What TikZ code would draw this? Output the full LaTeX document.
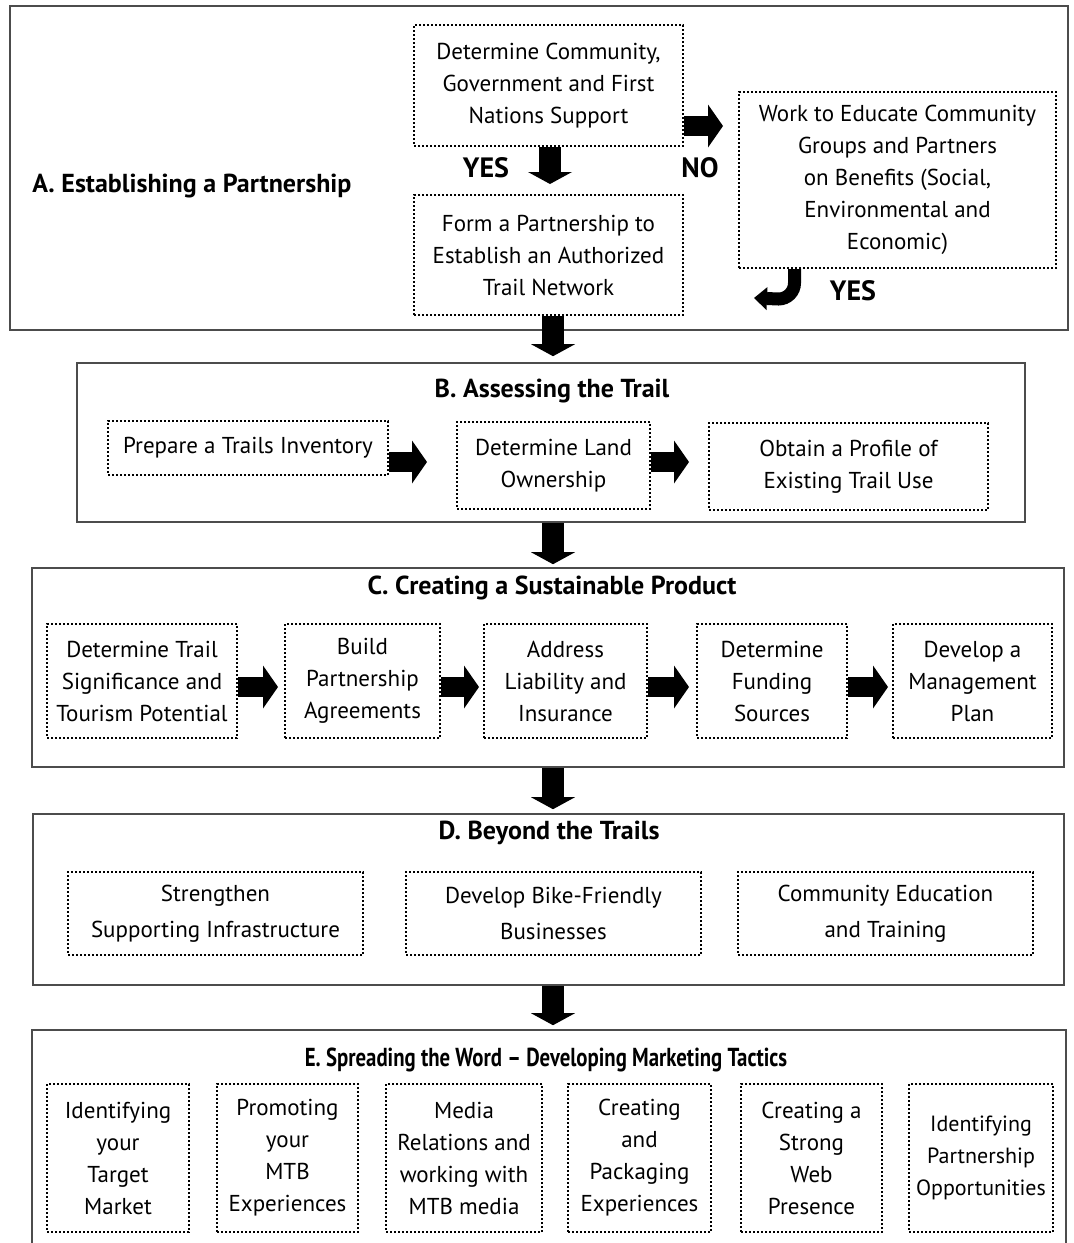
\documentclass[tikz,border=0pt]{standalone}
\usepackage{fontspec}
\setmainfont{PT Sans}
\usetikzlibrary{arrows.meta}
\begin{document}
\begin{tikzpicture}[x=0.5pt,y=-0.5pt,
  part/.style={draw=black!70,line width=0.8pt,inner sep=0pt},
  dotbox/.style={draw,densely dotted,line width=1pt,align=center,inner sep=0pt,font=\fontsize{11.5}{16}\selectfont},
  title/.style={inner sep=0pt,font=\bfseries\fontsize{13}{15}\selectfont},
  answer/.style={inner sep=0pt,font=\bfseries\fontsize{14}{16}\selectfont},
  fatdown/.style={line width=11pt,-{Triangle[length=6pt,width=22pt,line width=0pt]}},
  fat/.style={line width=10pt,-{Triangle[length=7.5pt,width=21.5pt,line width=0pt]}}]
\useasboundingbox (0,0) rectangle (1073,1243);
\clip (0,0) rectangle (1073,1243);
\node[part,minimum width=529pt,minimum height=162pt] (secA) at (539,168) {};
\node[part,minimum width=474pt,minimum height=79.5pt] (secB) at (551,442.5) {};
\node[part,minimum width=516pt,minimum height=99.5pt] (secC) at (548,667.5) {};
\node[part,minimum width=515.5pt,minimum height=85.5pt] (secD) at (548.5,899.5) {};
\node[part,minimum width=517pt,minimum height=115pt] (secE) at (549,1145) {};
\node[title,anchor=base west] (titleA) at (32,192) {A. Establishing a Partnership};
\node[title,anchor=base] (titleB) at (552,397) {B. Assessing the Trail};
\node[title,anchor=base] (titleC) at (552,594) {C. Creating a Sustainable Product};
\node[title,anchor=base] (titleD) at (549,839) {D. Beyond the Trails};
\node[title,anchor=base] (titleE) at (546,1066) {\scalebox{0.8}[1]{E. Spreading the Word -- Developing Marketing Tactics}};
\node[dotbox,minimum width=134.5pt,minimum height=60.5pt] (support) at (548.5,85.5) {Determine Community,\\Government and First\\Nations Support};
\node[dotbox,minimum width=134.5pt,minimum height=60pt] (form) at (548.5,255) {Form a Partnership to\\Establish an Authorized\\Trail Network};
\node[dotbox,minimum width=158.5pt,minimum height=88pt] (educate) at (897.5,180) {Work to Educate Community\\Groups and Partners\\on Benefits (Social,\\Environmental and\\Economic)};
\node[answer] (yes1) at (486,168) {YES}; \node[answer] (no) at (700,168) {NO}; \node[answer] (yes2) at (853,291) {YES};
\node[dotbox,minimum width=140pt,minimum height=27pt] (inventory) at (248,448) {Prepare a Trails Inventory};
\node[dotbox,minimum width=96.5pt,minimum height=43.5pt] (land) at (553.5,465.5) {Determine Land\\Ownership};
\node[dotbox,minimum width=139.5pt,minimum height=43.5pt] (profile) at (848.5,466.5) {Obtain a Profile of\\Existing Trail Use};
\node[dotbox,minimum width=95pt,minimum height=57pt] (c1) at (142,681) {Determine Trail\\Significance and\\Tourism Potential};
\node[dotbox,minimum width=77.5pt,minimum height=57pt] (c2) at (362.5,681) {Build\\Partnership\\Agreements};
\node[dotbox,minimum width=81.5pt,minimum height=57pt] (c3) at (565.5,681) {Address\\Liability and\\Insurance};
\node[dotbox,minimum width=75pt,minimum height=57pt] (c4) at (772,681) {Determine\\Funding\\Sources};
\node[dotbox,minimum width=79.5pt,minimum height=57pt] (c5) at (972.5,681) {Develop a\\Management\\Plan};
\node[dotbox,minimum width=147.5pt,minimum height=41.5pt,font=\fontsize{11.5}{18}\selectfont] (d1) at (215.5,913.5) {Strengthen\\Supporting Infrastructure};
\node[dotbox,minimum width=147.5pt,minimum height=41.5pt,font=\fontsize{11.5}{18}\selectfont] (d2) at (553.5,913.5) {Develop Bike-Friendly\\Businesses};
\node[dotbox,minimum width=147.5pt,minimum height=41.5pt,font=\fontsize{11.5}{18}\selectfont] (d3) at (885.5,913.5) {Community Education\\and Training};
\node[dotbox,minimum width=71pt,minimum height=74pt] (e1) at (118,1158) {Identifying\\your\\Target\\Market};
\node[dotbox,minimum width=70.5pt,minimum height=74pt] (e2) at (287.5,1158) {Promoting\\your\\MTB\\Experiences};
\node[dotbox,minimum width=78pt,minimum height=74pt] (e3) at (464,1158) {Media\\Relations and\\working with\\MTB media};
\node[dotbox,minimum width=71.5pt,minimum height=74pt] (e4) at (639.5,1158) {Creating\\and\\Packaging\\Experiences};
\node[dotbox,minimum width=70.5pt,minimum height=74pt] (e5) at (811.5,1158) {Creating a\\Strong\\Web\\Presence};
\node[dotbox,minimum width=72pt,minimum height=74pt,font=\fontsize{11}{16}\selectfont] (e6) at (981,1158) {Identifying\\Partnership\\Opportunities};
\coordinate (spine) at (553,0); \coordinate (yesline) at (550,0); \coordinate (noline) at (0,126);
\coordinate (brow) at (0,462); \coordinate (crow) at (0,687); \coordinate (turn) at (794.5,0); \coordinate (back) at (754,298);
\draw[fatdown,shorten >=5pt] (support.south -| yesline) -- (form.north -| yesline);
\draw[fat,shorten >=7.5pt] (support.east |- noline) -- (educate.west |- noline);
\draw[line width=6.5pt,-{Triangle[length=6.5pt,width=11.5pt,line width=0pt]}] (educate.south -| turn) -- ++(0,14) arc[start angle=0,end angle=90,radius=16] -- (back);
\draw[fatdown,shorten >=3pt] (form.south -| spine) -- (secB.north -| spine);
\draw[fatdown,shorten >=1.5pt] (secB.south -| spine) -- (secC.north -| spine);
\draw[fatdown,shorten >=2pt] (secC.south -| spine) -- (secD.north -| spine);
\draw[fatdown,shorten >=2pt] (secD.south -| spine) -- (secE.north -| spine);
\draw[fat,shorten >=14.5pt] (inventory.east |- brow) -- (land.west |- brow);
\draw[fat,shorten >=9.5pt] (land.east |- brow) -- (profile.west |- brow);
\draw[fat,shorten >=3pt] (c1.east |- crow) -- (c2.west |- crow);
\draw[fat,shorten >=2pt] (c2.east |- crow) -- (c3.west |- crow);
\draw[fat,shorten >=3.5pt] (c3.east |- crow) -- (c4.west |- crow);
\draw[fat,shorten >=2pt] (c4.east |- crow) -- (c5.west |- crow);
\end{tikzpicture}
\end{document}
